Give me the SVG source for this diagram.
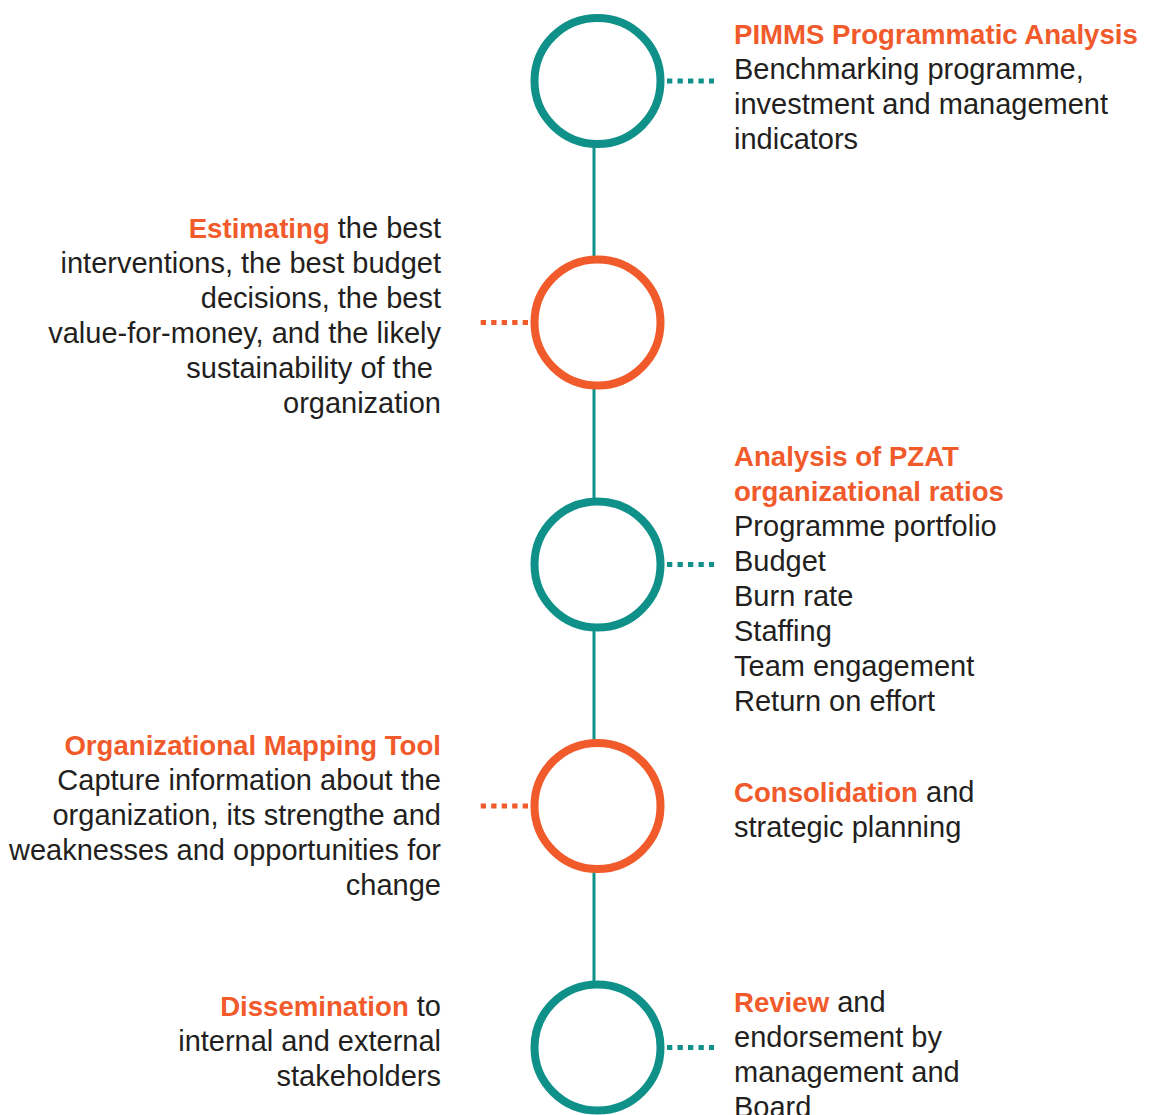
<svg xmlns="http://www.w3.org/2000/svg" width="1150" height="1115" viewBox="0 0 1150 1115">
<style>
.t{font-family:"Liberation Sans",Arial,sans-serif;font-size:29px;fill:#231F20}
.b{font-family:"Liberation Sans",Arial,sans-serif;font-size:27.6px;font-weight:bold;fill:#F15A2B}
.r{text-anchor:end}
.ct{fill:#fff;stroke:#0F918A;stroke-width:8}
.co{fill:#fff;stroke:#F15A2B;stroke-width:8}
.spine{stroke:#0F918A;stroke-width:3}
.dt{stroke:#0F918A;stroke-width:5;stroke-dasharray:5.3 5.2}
.do{stroke:#F15A2B;stroke-width:5;stroke-dasharray:5.3 5.2}
</style>
<rect width="1150" height="1115" fill="#fff"/>
<g id="connectors">
<line class="spine" x1="594" y1="140" x2="594" y2="990"/>
<line class="dt" x1="667" y1="81" x2="714" y2="81"/>
<line class="do" x1="528" y1="322.5" x2="480" y2="322.5"/>
<line class="dt" x1="667" y1="564.5" x2="714" y2="564.5"/>
<line class="do" x1="528" y1="806" x2="480" y2="806"/>
<line class="dt" x1="667" y1="1047.5" x2="714" y2="1047.5"/>
</g>
<g id="node-1">
<circle class="ct" cx="597.5" cy="81" r="63"/>
<text class="b" x="734" y="44">PIMMS Programmatic Analysis</text>
<text class="t" x="734" y="79">Benchmarking programme,</text>
<text class="t" x="734" y="114">investment and management</text>
<text class="t" x="734" y="149">indicators</text>
</g>
<g id="node-2">
<circle class="co" cx="597.5" cy="322.5" r="63"/>
<text class="t r" x="441" y="238"><tspan class="b">Estimating</tspan> the best</text>
<text class="t r" x="441" y="273">interventions, the best budget</text>
<text class="t r" x="441" y="308">decisions, the best</text>
<text class="t r" x="441" y="343">value-for-money, and the likely</text>
<text class="t r" x="441" y="378" style="white-space:pre">sustainability of the </text>
<text class="t r" x="441" y="413">organization</text>
</g>
<g id="node-3">
<circle class="ct" cx="597.5" cy="564.5" r="63"/>
<text class="b" x="734" y="466">Analysis of PZAT</text>
<text class="b" x="734" y="501">organizational ratios</text>
<text class="t" x="734" y="536">Programme portfolio</text>
<text class="t" x="734" y="571">Budget</text>
<text class="t" x="734" y="606">Burn rate</text>
<text class="t" x="734" y="641">Staffing</text>
<text class="t" x="734" y="676">Team engagement</text>
<text class="t" x="734" y="711">Return on effort</text>
</g>
<g id="node-4">
<circle class="co" cx="597.5" cy="806" r="63"/>
<text class="b r" x="441" y="755">Organizational Mapping Tool</text>
<text class="t r" x="441" y="790">Capture information about the</text>
<text class="t r" x="441" y="825">organization, its strengthe and</text>
<text class="t r" x="441" y="860">weaknesses and opportunities for</text>
<text class="t r" x="441" y="895">change</text>
<text class="t" x="734" y="802"><tspan class="b">Consolidation</tspan> and</text>
<text class="t" x="734" y="837">strategic planning</text>
</g>
<g id="node-5">
<circle class="ct" cx="597.5" cy="1047.5" r="63"/>
<text class="t r" x="441" y="1016"><tspan class="b">Dissemination</tspan> to</text>
<text class="t r" x="441" y="1051">internal and external</text>
<text class="t r" x="441" y="1086">stakeholders</text>
<text class="t" x="734" y="1012"><tspan class="b">Review</tspan> and</text>
<text class="t" x="734" y="1047">endorsement by</text>
<text class="t" x="734" y="1082">management and</text>
<text class="t" x="734" y="1117">Board</text>
</g>
</svg>
